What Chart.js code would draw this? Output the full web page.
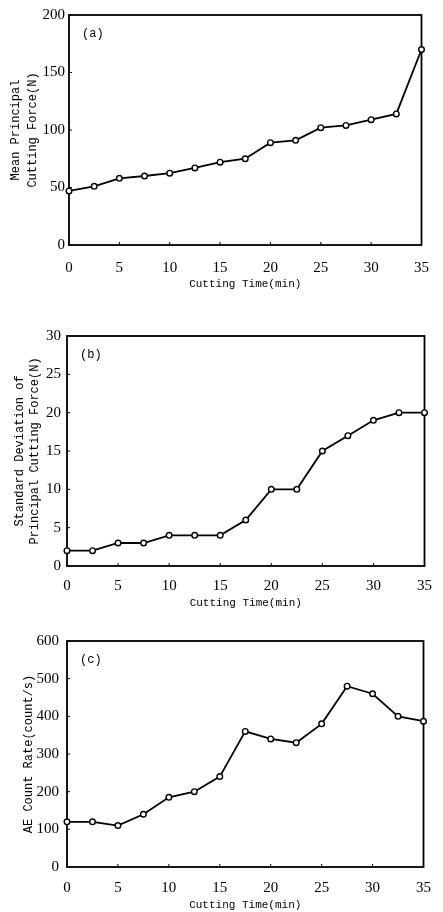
<!DOCTYPE html>
<html>
<head>
<meta charset="utf-8">
<script src="https://cdn.jsdelivr.net/npm/chart.js@4/dist/chart.umd.min.js"></script>
<style>
  body { margin: 0; background: #fff; }
  canvas { position: absolute; left: 0; }
</style>
</head>
<body>
<canvas id="chartA" width="443" height="300" style="top:0px"></canvas>
<canvas id="chartB" width="443" height="315" style="top:300px"></canvas>
<canvas id="chartC" width="443" height="297" style="top:615px"></canvas>
<script>
// cutting time (min)
const cuttingTime = [0, 2.5, 5, 7.5, 10, 12.5, 15, 17.5, 20, 22.5, 25, 27.5, 30, 32.5, 35];
// (a) mean principal cutting force (N)
const meanForce = [47, 51, 58, 60, 62.5, 67, 72, 75, 89, 91, 102, 104, 109, 114, 170];
// (b) standard deviation of principal cutting force (N)
const stdForce = [2, 2, 3, 3, 4, 4, 4, 6, 10, 10, 15, 17, 19, 20, 20];
// (c) AE count rate (count/s)
const aeRate = [120, 120, 110, 140, 185, 200, 240, 360, 340, 330, 380, 480, 460, 400, 387];

const monoFont = "'Liberation Mono', 'DejaVu Sans Mono', monospace";
const tickFont = "'Liberation Serif', 'DejaVu Serif', serif";

// box round the plot area, small inward ticks, panel letter
const framePlugin = {
  id: "frame",
  beforeDatasetsDraw(chart, args, opts) {
    const ctx = chart.ctx;
    const a = chart.chartArea;
    const xs = chart.scales.x;
    const ys = chart.scales.y;
    ctx.save();
    ctx.strokeStyle = "#000";
    ctx.lineWidth = 1.8;
    ctx.strokeRect(a.left, a.top, a.right - a.left, a.bottom - a.top);
    ctx.lineWidth = 1;
    ctx.beginPath();
    xs.ticks.forEach(function (t) {
      const px = xs.getPixelForValue(t.value);
      ctx.moveTo(px, a.bottom);
      ctx.lineTo(px, a.bottom - 3);
    });
    ys.ticks.forEach(function (t) {
      const py = ys.getPixelForValue(t.value);
      ctx.moveTo(a.left, py);
      ctx.lineTo(a.left + 3, py);
    });
    ctx.stroke();
    ctx.fillStyle = "#000";
    ctx.font = "12px " + monoFont;
    ctx.textBaseline = "middle";
    ctx.fillText(opts.label, a.left + 13, a.top + 19);
    ctx.restore();
  },
};

function makeChart(id, values, yMax, yStep, yTitle, p) {
  const ctx = document.getElementById(id).getContext("2d");
  return new Chart(ctx, {
    type: "line",
    data: {
      datasets: [
        {
          data: cuttingTime.map(function (t, i) { return { x: t, y: values[i] }; }),
          borderColor: "#000",
          borderWidth: 1.8,
          pointRadius: 2.8,
          pointBorderWidth: 1.4,
          pointBackgroundColor: "#fff",
          pointBorderColor: "#000",
          tension: 0,
          clip: false,
        },
      ],
    },
    options: {
      responsive: false,
      animation: false,
      layout: { padding: { top: p.top, right: p.right, bottom: 0, left: 0 } },
      plugins: {
        legend: { display: false },
        tooltip: { enabled: false },
        frame: { label: p.label },
      },
      scales: {
        x: {
          type: "linear",
          min: 0,
          max: 35,
          grid: { display: false, drawTicks: false },
          border: { display: false },
          ticks: { stepSize: 5, padding: p.xPad, color: "#000", font: { family: tickFont, size: 15 } },
          title: {
            display: true,
            text: "Cutting Time(min)",
            color: "#000",
            font: { family: monoFont, size: 11 },
            padding: { top: 0, bottom: p.xTitlePad },
          },
          afterFit: function (scale) { scale.height = p.xHeight; },
        },
        y: {
          min: 0,
          max: yMax,
          grid: { display: false, drawTicks: false },
          border: { display: false },
          ticks: { stepSize: yStep, padding: p.yPad, color: "#000", font: { family: tickFont, size: 15 } },
          title: {
            display: true,
            text: yTitle,
            color: "#000",
            font: { family: monoFont, size: 12, lineHeight: p.yLine },
            padding: { top: p.yTitlePad, bottom: 0 },
          },
          afterFit: function (scale) { scale.width = p.yWidth; },
        },
      },
    },
    plugins: [framePlugin],
  });
}

makeChart("chartA", meanForce, 200, 50, ["Mean Principal", "Cutting Force(N)"], {
  label: "(a)", top: 15, right: 15, xHeight: 55, xPad: 14, xTitlePad: 9,
  yWidth: 69, yPad: 4, yLine: 1.42, yTitlePad: 7.5,
});
makeChart("chartB", stdForce, 30, 5, ["Standard Deviation of", "Principal Cutting Force(N)"], {
  label: "(b)", top: 36, right: 10, xHeight: 49, xPad: 11, xTitlePad: 5.5,
  yWidth: 67, yPad: 6, yLine: 1.25, yTitlePad: 12.5,
});
makeChart("chartC", aeRate, 600, 100, "AE Count Rate(count/s)", {
  label: "(c)", top: 26, right: 16, xHeight: 45, xPad: 12, xTitlePad: 0.5,
  yWidth: 67, yPad: 8, yLine: 1.25, yTitlePad: 21.5,
});
</script>
</body>
</html>
